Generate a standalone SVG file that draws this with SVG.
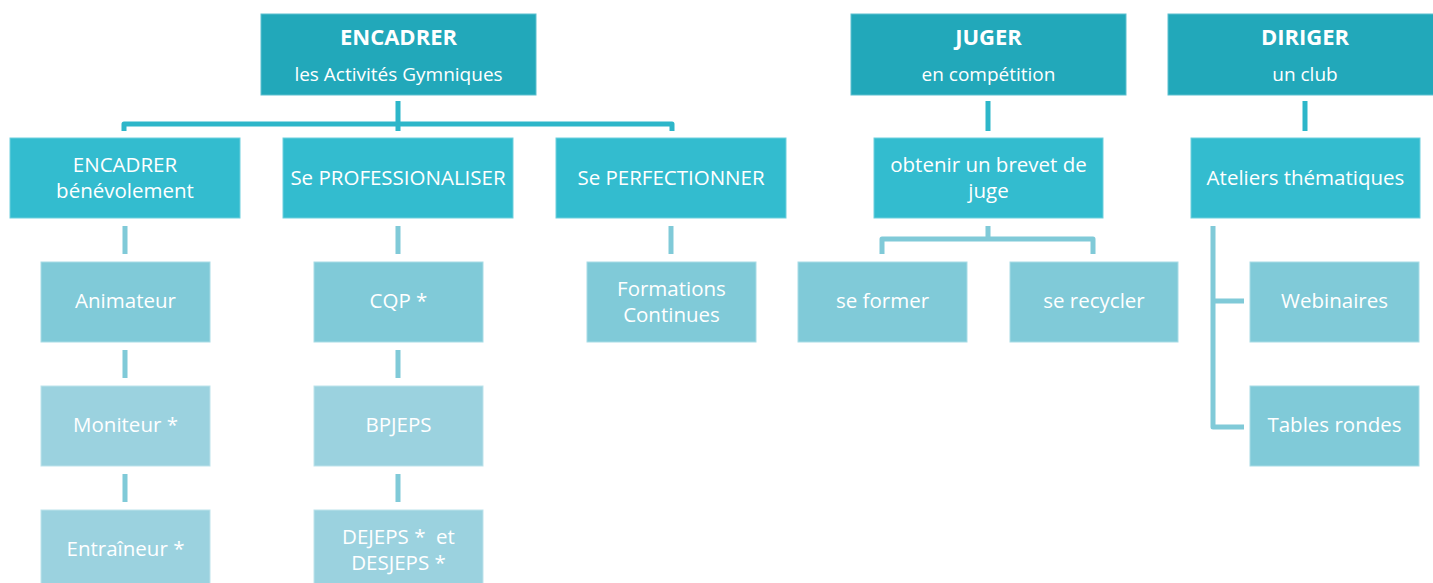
<svg xmlns="http://www.w3.org/2000/svg" width="1433" height="583" viewBox="0 0 1433 583">
<style>
text{font-family:"Open Sans","Noto Sans","Liberation Sans",sans-serif;font-size:20.5px;fill:#ffffff;text-anchor:middle}
.b{font-weight:bold;font-size:22px}
.s{font-size:19px}
.t{fill:#22A8BA;stroke:#5CC0CF;stroke-width:1}
.m{fill:#33BCCF;stroke:#6FD0DD;stroke-width:1}
.l{fill:#80CAD8;stroke:#A8DCE6;stroke-width:1}
.p{fill:#9BD2DF;stroke:#BDE3EB;stroke-width:1}
.c1{fill:none;stroke:#2DB6C9;stroke-width:5;stroke-linejoin:round}
.c2{fill:none;stroke:#80CAD8;stroke-width:5;stroke-linejoin:round}
</style>
<rect width="1433" height="583" fill="#ffffff"/>
<g id="connectors">
<path class="c1" d="M398 101V124M124 131V124H672V131M398 124V131"/>
<path class="c1" d="M988 101V131"/>
<path class="c1" d="M1305 101V131"/>
<path class="c2" d="M125 226V254M125 350V378M125 474V502"/>
<path class="c2" d="M398 226V254M398 350V378M398 474V502"/>
<path class="c2" d="M671 226V254"/>
<path class="c2" d="M988 226V239M882 254V239H1093V254"/>
<path class="c2" d="M1213 226V427H1244M1213 301H1244"/>
</g>
<g id="n-encadrer"><rect class="t" x="261" y="14" width="275" height="81"/><text class="b" x="398.5" y="45">ENCADRER</text><text class="s" x="398.5" y="81">les Activités Gymniques</text></g>
<g id="n-juger"><rect class="t" x="851" y="14" width="275" height="81"/><text class="b" x="988.5" y="45">JUGER</text><text class="s" x="988.5" y="81">en compétition</text></g>
<g id="n-diriger"><rect class="t" x="1168" y="14" width="266" height="81"/><text class="b" x="1305" y="45">DIRIGER</text><text class="s" x="1305" y="81">un club</text></g>
<g id="n-benevole"><rect class="m" x="10" y="138" width="230" height="80"/><text x="125" y="172">ENCADRER</text><text x="125" y="198">bénévolement</text></g>
<g id="n-pro"><rect class="m" x="283" y="138" width="230" height="80"/><text x="398" y="185">Se PROFESSIONALISER</text></g>
<g id="n-perf"><rect class="m" x="556" y="138" width="230" height="80"/><text x="671" y="185">Se PERFECTIONNER</text></g>
<g id="n-brevet"><rect class="m" x="874" y="138" width="229" height="80"/><text x="988.5" y="172">obtenir un brevet de</text><text x="988.5" y="198">juge</text></g>
<g id="n-ateliers"><rect class="m" x="1191" y="138" width="229" height="80"/><text x="1305.5" y="185">Ateliers thématiques</text></g>
<g id="n-animateur"><rect class="l" x="41" y="262" width="169" height="80"/><text x="125.5" y="308">Animateur</text></g>
<g id="n-cqp"><rect class="l" x="314" y="262" width="169" height="80"/><text x="398.5" y="308">CQP *</text></g>
<g id="n-formations"><rect class="l" x="587" y="262" width="169" height="80"/><text x="671.5" y="296">Formations</text><text x="671.5" y="322">Continues</text></g>
<g id="n-former"><rect class="l" x="798" y="262" width="169" height="80"/><text x="882.5" y="308">se former</text></g>
<g id="n-recycler"><rect class="l" x="1010" y="262" width="168" height="80"/><text x="1094" y="308">se recycler</text></g>
<g id="n-webinaires"><rect class="l" x="1250" y="262" width="169" height="80"/><text x="1334.5" y="308">Webinaires</text></g>
<g id="n-moniteur"><rect class="p" x="41" y="386" width="169" height="80"/><text x="125.5" y="432">Moniteur *</text></g>
<g id="n-bpjeps"><rect class="p" x="314" y="386" width="169" height="80"/><text x="398.5" y="432">BPJEPS</text></g>
<g id="n-tables"><rect class="l" x="1250" y="386" width="169" height="80"/><text x="1334.5" y="432">Tables rondes</text></g>
<g id="n-entraineur"><rect class="p" x="41" y="510" width="169" height="80"/><text x="125.5" y="556">Entraîneur *</text></g>
<g id="n-dejeps"><rect class="p" x="314" y="510" width="169" height="80"/><text x="398.5" y="544" style="white-space:pre" xml:space="preserve">DEJEPS *  et</text><text x="398.5" y="570">DESJEPS *</text></g>
</svg>
